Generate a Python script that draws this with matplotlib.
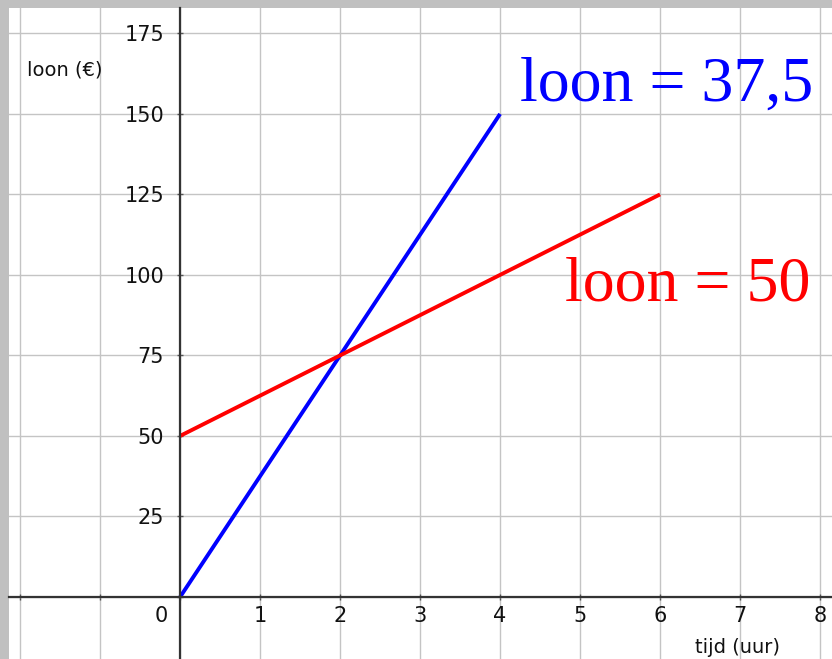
import numpy as np
import matplotlib.pyplot as plt

# data
tijd_blauw = [0, 4]
loon_blauw = [0, 150]
tijd_rood = [0, 6]
loon_rood = [50, 125]
x_ticks = [1, 2, 3, 4, 5, 6, 7, 8]
y_ticks = [25, 50, 75, 100, 125, 150, 175]

fig = plt.figure(figsize=(8.32, 6.59), dpi=100, facecolor="#c0c0c0")
ax = fig.add_axes([9 / 832, 0, 1 - 9 / 832, 1 - 8 / 659])
ax.set_facecolor("white")

ax.set_xlim(-2.14, 8.15)
ax.set_ylim(-19.3, 182.9)

# grid every unit / every 25
ax.set_xticks(range(-2, 9))
ax.set_yticks(range(0, 176, 25))
ax.grid(True, color="#c4c4c4", linewidth=1.0)
ax.set_axisbelow(True)
ax.set_xticklabels([""] * 3 + [str(v) for v in x_ticks], ha="right")
ax.set_yticklabels([""] + [str(v) for v in y_ticks])
ax.tick_params(axis="both", direction="inout", length=5, width=1, color="#555555",
               labelsize=15, labelcolor="#111111")
ax.tick_params(axis="x", pad=4)
ax.tick_params(axis="y", pad=9)

for s in ["top", "right"]:
    ax.spines[s].set_visible(False)
ax.spines["left"].set_position(("data", 0))
ax.spines["bottom"].set_position(("data", 0))
for s in ["left", "bottom"]:
    ax.spines[s].set_color("#333333")
    ax.spines[s].set_linewidth(1.6)

ax.text(-0.15, -2.8, "0", ha="right", va="top", fontsize=15, color="#111111")

ax.plot(tijd_blauw, loon_blauw, color="#0000ff", linewidth=2.8, solid_capstyle="butt")
ax.plot(tijd_rood, loon_rood, color="#ff0000", linewidth=2.8, solid_capstyle="butt")

ax.text(-1.91, 163.7, "loon (€)", ha="left", va="center", fontsize=14, color="#111111")
ax.text(6.44, -15.8, "tijd (uur)", ha="left", va="center", fontsize=14, color="#111111")

ax.text(4.25, 154.0, "loon = 37,5", ha="left", va="baseline", fontsize=46,
        family="Liberation Serif", color="#0000ff", clip_on=False)
ax.text(4.81, 92.0, "loon = 50", ha="left", va="baseline", fontsize=46,
        family="Liberation Serif", color="#ff0000", clip_on=False)

fig.savefig("out.png", dpi=100, facecolor=fig.get_facecolor())
